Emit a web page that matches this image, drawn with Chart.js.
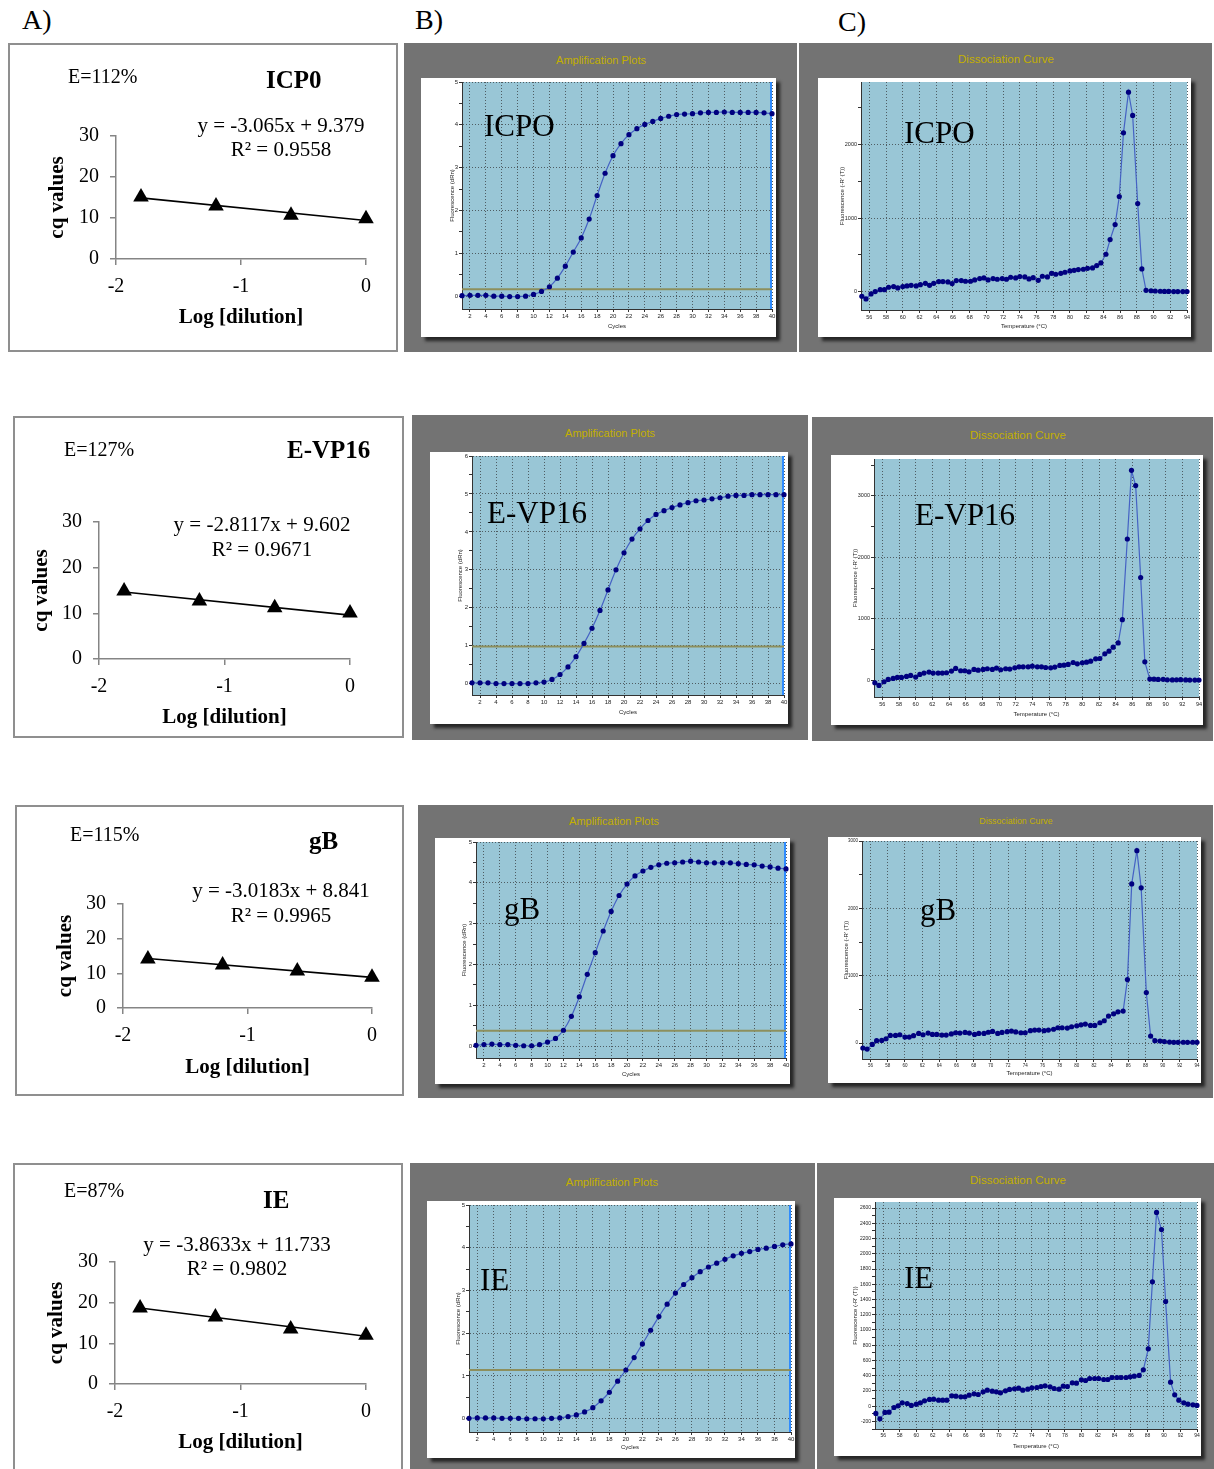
<!DOCTYPE html>
<html>
<head>
<meta charset="utf-8">
<title>qPCR standard curves, amplification and dissociation</title>
<script src="https://cdn.jsdelivr.net/npm/chart.js@4.4.1/dist/chart.umd.min.js"></script>
<style>
  html, body { margin: 0; padding: 0; background: #fff; }
  body { position: relative; width: 1214px; height: 1469px; overflow: hidden; font-family: "Liberation Serif", serif; }
  .frame { position: absolute; box-sizing: border-box; border: 2px solid #8f8f8f; background: #fff; }
  .grey { position: absolute; background: #737373; }
  .white { position: absolute; background: #fff; box-shadow: 4px 4px 3px rgba(25,25,25,0.85); }
  .txt { position: absolute; white-space: nowrap; line-height: 1; color: #000; }
  canvas { position: absolute; }
</style>
</head>
<body>
<script>
// ---- data ----
var genes = ['ICP0', 'E-VP16', 'gB', 'IE'];
var plotLabels = ['ICPO', 'E-VP16', 'gB', 'IE'];
var efficiency = ['E=112%', 'E=127%', 'E=115%', 'E=87%'];
var equations = ['y = -3.065x + 9.379', 'y = -2.8117x + 9.602', 'y = -3.0183x + 8.841', 'y = -3.8633x + 11.733'];
var rSquared = ['R\u00b2 = 0.9558', 'R\u00b2 = 0.9671', 'R\u00b2 = 0.9965', 'R\u00b2 = 0.9802'];

// standard curves (A)
var logDilution = [-1.8, -1.2, -0.6, 0];
var cqICP0 = [15.1, 12.9, 10.7, 9.8];
var cqEVP16 = [14.9, 12.7, 11.2, 10.1];
var cqGB = [14.1, 12.4, 10.7, 8.9];
var cqIE = [18.7, 16.5, 13.5, 12.0];
var trendX = [-1.8, 0];
var trendICP0 = [14.9, 9.38];
var trendEVP16 = [14.66, 9.6];
var trendGB = [14.27, 8.84];
var trendIE = [18.69, 11.73];

// amplification plots (B)
var cycles = [1, 2, 3, 4, 5, 6, 7, 8, 9, 10, 11, 12, 13, 14, 15, 16, 17, 18, 19, 20,
              21, 22, 23, 24, 25, 26, 27, 28, 29, 30, 31, 32, 33, 34, 35, 36, 37, 38, 39, 40];
var ampICP0 = [0.01, 0.02, 0.02, 0.02, 0.0, 0.0, -0.01, -0.01, 0.0, 0.04,
               0.11, 0.22, 0.42, 0.70, 1.03, 1.36, 1.80, 2.35, 2.87, 3.28,
               3.56, 3.77, 3.91, 4.01, 4.08, 4.15, 4.20, 4.24, 4.25, 4.26,
               4.28, 4.29, 4.29, 4.30, 4.29, 4.29, 4.29, 4.29, 4.28, 4.26];
var ampEVP16 = [0.02, 0.02, 0.02, 0.0, 0.0, 0.0, 0.0, 0.0, 0.02, 0.04,
                0.11, 0.24, 0.44, 0.71, 1.06, 1.46, 1.93, 2.47, 3.00, 3.45,
                3.81, 4.08, 4.30, 4.46, 4.56, 4.64, 4.71, 4.77, 4.82, 4.84,
                4.87, 4.90, 4.94, 4.96, 4.96, 4.98, 4.98, 4.98, 4.98, 4.98];
var ampGB = [0.02, 0.04, 0.05, 0.04, 0.04, 0.02, 0.01, 0.01, 0.04, 0.10,
             0.19, 0.39, 0.73, 1.21, 1.76, 2.29, 2.82, 3.30, 3.69, 3.97,
             4.17, 4.29, 4.38, 4.44, 4.48, 4.49, 4.51, 4.53, 4.51, 4.49,
             4.49, 4.49, 4.49, 4.47, 4.45, 4.44, 4.41, 4.39, 4.36, 4.34];
var ampIE = [0.01, 0.02, 0.02, 0.02, 0.01, 0.01, 0.01, 0.0, 0.0, 0.0,
             0.01, 0.02, 0.05, 0.09, 0.16, 0.26, 0.42, 0.62, 0.88, 1.14,
             1.43, 1.75, 2.07, 2.39, 2.68, 2.94, 3.14, 3.30, 3.44, 3.55,
             3.64, 3.73, 3.81, 3.87, 3.91, 3.96, 3.99, 4.03, 4.07, 4.09];
var thresholds = [0.16, 0.98, 0.38, 1.14];

// dissociation curves (C)
var meltTemp = [55.1, 55.6, 56.2, 56.7, 57.3, 57.8, 58.3, 58.9, 59.4, 60.0,
                60.5, 61.0, 61.6, 62.1, 62.7, 63.2, 63.7, 64.3, 64.8, 65.4,
                65.9, 66.4, 67.0, 67.5, 68.1, 68.6, 69.2, 69.7, 70.2, 70.8,
                71.3, 71.9, 72.4, 72.9, 73.5, 74.0, 74.6, 75.1, 75.6, 76.2,
                76.7, 77.3, 77.8, 78.3, 78.9, 79.4, 80.0, 80.5, 81.0, 81.6,
                82.1, 82.7, 83.2, 83.7, 84.3, 84.8, 85.4, 85.9, 86.4, 87.0,
                87.5, 88.1, 88.6, 89.1, 89.7, 90.2, 90.8, 91.3, 91.8, 92.4,
                92.9, 93.5, 94.0];
var meltICP0 = [-63, -100, -32, 0, 27, 27, 59, 68, 50, 68,
                77, 86, 77, 95, 113, 86, 113, 136, 136, 132,
                109, 150, 150, 141, 141, 159, 177, 186, 159, 177,
                168, 177, 168, 195, 186, 204, 200, 172, 190, 154,
                209, 200, 249, 236, 249, 263, 281, 290, 299, 304,
                317, 322, 354, 390, 508, 707, 912, 1293, 2159, 2712,
                2395, 1197, 308, 18, 12, 8, 5, 3, 2, 1,
                1, 0, 0];
var meltEVP16 = [-38, -81, -22, 16, 32, 49, 49, 65, 81, 54,
                 97, 119, 135, 119, 119, 119, 124, 151, 194, 157,
                 157, 140, 178, 167, 178, 189, 178, 200, 173, 189,
                 184, 205, 221, 221, 221, 232, 221, 221, 210, 205,
                 216, 243, 248, 259, 291, 270, 286, 297, 313, 351,
                 356, 432, 475, 540, 610, 988, 2299, 3416, 3168, 1673,
                 302, 22, 20, 15, 18, 10, 8, 10, 12, 8,
                 6, 5, 5];
var meltGB = [-74, -89, -20, 35, 39, 64, 113, 113, 123, 89,
              89, 109, 143, 123, 148, 128, 128, 118, 118, 135,
              153, 148, 158, 148, 128, 143, 143, 160, 173, 143,
              158, 168, 178, 165, 153, 153, 183, 192, 192, 183,
              192, 205, 227, 227, 222, 242, 255, 271, 281, 261,
              261, 301, 331, 400, 434, 464, 474, 942, 2363, 2856,
              2304, 750, 104, 35, 30, 22, 15, 10, 10, 12,
              10, 12, 10];
var meltIE = [-96, -166, -83, -79, -18, 4, 44, 35, 9, 26,
              44, 70, 88, 92, 79, 79, 79, 136, 131, 123,
              123, 144, 162, 153, 188, 210, 197, 188, 175, 201,
              219, 228, 236, 210, 223, 241, 245, 258, 267, 254,
              232, 223, 263, 258, 306, 302, 346, 337, 363, 363,
              363, 350, 350, 376, 376, 376, 376, 385, 394, 403,
              477, 753, 1632, 2543, 2319, 1374, 315, 149, 79, 44,
              26, 18, 9];

// ---- layout (page pixels) ----
var stdLayout = [
  { box: [8, 43, 390, 309], area: [116, 136, 366, 259], yTitle: 58, xTitle: 318, e: [68, 76], gene: [266, 79], eq: [281, 125], r2: [281, 149] },
  { box: [13, 416, 391, 322], area: [99, 522, 350, 659], yTitle: 42, xTitle: 718, e: [64, 449], gene: [287, 449], eq: [262, 524], r2: [262, 549] },
  { box: [15, 805, 389, 291], area: [123, 904, 372, 1008], yTitle: 66, xTitle: 1068, e: [70, 834], gene: [309, 840], eq: [281, 890], r2: [281, 915] },
  { box: [13, 1163, 390, 312], area: [115, 1262, 366, 1384], yTitle: 57, xTitle: 1443, e: [64, 1190], gene: [263, 1199], eq: [237, 1244], r2: [237, 1268] }
];
var ampLayout = [
  { grey: [404, 43, 393, 309], title: [601, 60, 11], white: [421, 78, 355, 259], plot: [41, 3, 352, 231], yTitle: 31, xTitle: 248, label: [484, 136], y: [-0.3, 5] },
  { grey: [412, 415, 396, 325], title: [610, 433, 11], white: [430, 452, 358, 272], plot: [42, 3, 355, 243], yTitle: 30, xTitle: 260, label: [487, 523], y: [-0.3, 6] },
  { grey: [418, 805, 392, 293], title: [614, 821, 11], white: [435, 838, 355, 246], plot: [41, 4, 353, 220], yTitle: 29, xTitle: 236, label: [504, 919], y: [-0.29, 5] },
  { grey: [410, 1163, 405, 306], title: [612, 1183, 11.3], white: [427, 1201, 368, 257], plot: [42, 2, 365, 231], yTitle: 31, xTitle: 246, label: [480, 1290], y: [-0.31, 5] }
];
var meltLayout = [
  { grey: [799, 43, 413, 309], title: [1006, 60, 11.5], white: [818, 78, 373, 259], plot: [43, 3, 369, 232], yTitle: 24, xTitle: 248, label: [904, 143], y: [-250, 2850, 1000, 500], tick: 5.5 },
  { grey: [812, 417, 401, 324], title: [1018, 436, 11.5], white: [831, 455, 372, 270], plot: [43, 4, 368, 242], yTitle: 24, xTitle: 259, label: [915, 525], y: [-270, 3600, 1000, 500], tick: 5.5 },
  { grey: [810, 805, 403, 293], title: [1016, 821, 8.8], white: [828, 837, 373, 246], plot: [34, 3, 370, 222], yTitle: 18, xTitle: 236, label: [920, 920], y: [-237, 3000, 1000, 500], tick: 4.5 },
  { grey: [817, 1163, 397, 306], title: [1018, 1181, 11.5], white: [834, 1198, 367, 258], plot: [41, 4, 363, 231], yTitle: 21, xTitle: 248, label: [904, 1288], y: [-300, 2680, 200, 100], tick: 5 }
];

// ---- helpers ----
function pts(xs, ys) {
  return xs.map(function (x, i) { return { x: x, y: ys[i] }; });
}
function div(cls, r) {
  var d = document.createElement('div');
  d.className = cls;
  d.style.left = r[0] + 'px';
  d.style.top = r[1] + 'px';
  d.style.width = r[2] + 'px';
  d.style.height = r[3] + 'px';
  document.body.appendChild(d);
  return d;
}
function canvasAt(r) {
  var c = document.createElement('canvas');
  c.width = r[2];
  c.height = r[3];
  c.style.left = r[0] + 'px';
  c.style.top = r[1] + 'px';
  document.body.appendChild(c);
  return c;
}
function addText(str, x, y, css, mode, size) {
  var d = document.createElement('div');
  d.className = 'txt';
  d.textContent = str;
  d.style.cssText += css + ';font-size:' + size + 'px';
  d.style.left = x + 'px';
  if (mode === 'b') {
    d.style.top = (y - 0.84 * size) + 'px';
  } else {
    d.style.top = y + 'px';
    d.style.transform = mode === 'c' ? 'translate(-50%,-50%)' : 'translateY(-50%)';
  }
  document.body.appendChild(d);
}
function noPad(s) {
  s.paddingLeft = 0; s.paddingRight = 0; s.paddingTop = 0; s.paddingBottom = 0;
}

// blue plot background of the instrument screenshots
var areaBg = {
  id: 'areaBg',
  beforeDraw: function (chart, args, opts) {
    if (!opts.color) return;
    var a = chart.chartArea, c = chart.ctx;
    c.save();
    c.fillStyle = opts.color;
    c.fillRect(a.left, a.top, a.right - a.left, a.bottom - a.top);
    c.restore();
  }
};
// blue cursor line at the last cycle
var edgeLine = {
  id: 'edgeLine',
  beforeDatasetsDraw: function (chart, args, opts) {
    if (!opts.color) return;
    var xs = chart.scales.x, a = chart.chartArea, c = chart.ctx;
    var px = xs.getPixelForValue(xs.max) - 1;
    c.save();
    c.strokeStyle = opts.color;
    c.lineWidth = 2;
    c.beginPath();
    c.moveTo(px, a.top);
    c.lineTo(px, a.bottom);
    c.stroke();
    c.restore();
  }
};
Chart.register(areaBg, edgeLine);

var serif = 'Liberation Serif';
var sans = 'Liberation Sans';

// ---- A) standard curves ----
function stdCurve(g, k, cq, trend) {
  var r = g.box;
  div('frame', r);
  var cv = canvasAt(r);
  var W = r[2], H = r[3];
  var L = g.area[0] - r[0], T = g.area[1] - r[1], R = g.area[2] - r[0], B = g.area[3] - r[1];
  new Chart(cv, {
    type: 'scatter',
    data: {
      datasets: [
        { type: 'line', data: pts(trendX, trend), borderColor: '#000', borderWidth: 1.6, pointRadius: 0, fill: false, order: 2 },
        { data: pts(logDilution, cq), pointStyle: 'triangle', pointRadius: 9, backgroundColor: '#000', borderColor: '#000', borderWidth: 0, clip: false, order: 1 }
      ]
    },
    options: {
      responsive: false,
      animation: false,
      layout: { padding: { left: 0, top: T, right: W - R, bottom: 0 } },
      plugins: { legend: { display: false }, tooltip: { enabled: false } },
      scales: {
        x: {
          type: 'linear', min: -2, max: 0,
          ticks: { stepSize: 1, color: '#000', font: { family: serif, size: 20 }, padding: 10 },
          grid: { drawOnChartArea: false, tickLength: 6, color: '#858585', lineWidth: 1.5 },
          border: { color: '#858585', width: 1.5 },
          title: { display: true, text: 'Log [dilution]', color: '#000', font: { family: serif, size: 21, weight: 'bold' },
                   padding: { top: 0, bottom: H - (g.xTitle - r[1]) - 12.6 } },
          afterFit: function (s) { s.height = H - B; noPad(s); }
        },
        y: {
          min: 0, max: 30,
          ticks: { stepSize: 10, color: '#000', font: { family: serif, size: 20 }, padding: 11 },
          grid: { drawOnChartArea: false, tickLength: 6, color: '#858585', lineWidth: 1.5 },
          border: { color: '#858585', width: 1.5 },
          title: { display: true, text: 'cq values', color: '#000', font: { family: serif, size: 21, weight: 'bold' },
                   padding: { top: g.yTitle - r[0] - 12.6, bottom: 0 } },
          afterFit: function (s) { s.width = L; noPad(s); }
        }
      }
    }
  });
  addText(efficiency[k], g.e[0], g.e[1], 'font-family:' + serif, 'l', 20);
  addText(genes[k], g.gene[0], g.gene[1], 'font-family:' + serif + ';font-weight:bold', 'l', 25);
  addText(equations[k], g.eq[0], g.eq[1], 'font-family:' + serif, 'c', 21);
  addText(rSquared[k], g.r2[0], g.r2[1], 'font-family:' + serif, 'c', 21);
}

// ---- B) and C) instrument screenshots ----
function instrument(g, k, title, xs, ys, o) {
  div('grey', g.grey);
  addText(title, g.title[0], g.title[1], 'font-family:' + sans + ';color:#c4b000', 'c', g.title[2]);
  div('white', g.white);
  var cv = canvasAt(g.white);
  var W = g.white[2], H = g.white[3], p = g.plot;
  var major = o.major, minor = o.minor;
  function isMajor(v) { return Math.abs(v / major - Math.round(v / major)) < 1e-6; }

  var datasets = [{
    data: pts(xs, ys), borderColor: '#4562c4', borderWidth: 1.2,
    pointRadius: 2.6, pointBackgroundColor: '#00007f', pointBorderWidth: 0,
    tension: o.tension, cubicInterpolationMode: o.tension ? 'monotone' : 'default',
    clip: false, order: 1
  }];
  if (o.threshold != null) {
    datasets.push({
      data: [{ x: o.xmin, y: o.threshold }, { x: o.xmax, y: o.threshold }],
      borderColor: '#8d8f5d', borderWidth: 2, pointRadius: 0, order: 2
    });
  }
  var tickFont = { family: sans, size: 6 };
  new Chart(cv, {
    type: 'line',
    data: { datasets: datasets },
    options: {
      responsive: false,
      animation: false,
      layout: { padding: { left: 0, top: p[1], right: W - p[2], bottom: 0 } },
      plugins: {
        legend: { display: false }, tooltip: { enabled: false },
        areaBg: { color: '#99c6d6' },
        edgeLine: { color: o.edge || null }
      },
      scales: {
        x: {
          type: 'linear', min: o.xmin, max: o.xmax,
          ticks: { stepSize: 2, includeBounds: false, color: '#222', font: { family: sans, size: o.tickSize }, padding: 1, maxRotation: 0, autoSkip: false,
                   callback: function (v) { return String(v); } },
          grid: { color: '#4f5d63', lineWidth: 1, tickLength: 3, tickColor: '#333' },
          border: { color: '#333', width: 1, dash: [1, 2] },
          title: { display: true, text: o.xTitle, color: '#222', font: tickFont, padding: { top: 0, bottom: H - g.xTitle - 3.6 } },
          afterFit: function (s) { s.height = H - p[3]; noPad(s); }
        },
        y: {
          min: o.ymin, max: o.ymax,
          ticks: { stepSize: minor, includeBounds: false, color: '#222', font: { family: sans, size: o.tickSize }, padding: 1, autoSkip: false,
                   callback: function (v) { return isMajor(v) ? String(Math.round(v)) : ''; } },
          afterBuildTicks: function (s) {
            var t = [];
            for (var v = Math.ceil(o.ymin / minor - 1e-9) * minor; v <= o.ymax + 1e-9; v += minor) {
              t.push({ value: Math.round(v * 1000) / 1000 });
            }
            s.ticks = t;
          },
          grid: {
            color: function (ctx) { return ctx.tick && isMajor(ctx.tick.value) ? '#4f5d63' : 'rgba(0,0,0,0)'; },
            lineWidth: 1, tickLength: 3, tickColor: '#333'
          },
          border: { color: '#333', width: 1, dash: [1, 2] },
          title: { display: true, text: o.yTitle, color: '#222', font: tickFont, padding: { top: g.yTitle - 3.6, bottom: 0 } },
          afterFit: function (s) { s.width = p[0]; noPad(s); }
        }
      }
    }
  });
  addText(plotLabels[k], g.label[0], g.label[1], 'font-family:' + serif, 'b', 31);
}

// ---- build the figure ----
var cqSets = [cqICP0, cqEVP16, cqGB, cqIE];
var trendSets = [trendICP0, trendEVP16, trendGB, trendIE];
var ampSets = [ampICP0, ampEVP16, ampGB, ampIE];
var meltSets = [meltICP0, meltEVP16, meltGB, meltIE];

for (var k = 0; k < 4; k++) {
  stdCurve(stdLayout[k], k, cqSets[k], trendSets[k]);
  var a = ampLayout[k];
  instrument(a, k, 'Amplification Plots', cycles, ampSets[k], {
    xmin: 1, xmax: 40, ymin: a.y[0], ymax: a.y[1], major: 1, minor: 0.5,
    tension: 0.4, threshold: thresholds[k], edge: '#2f8cff', tickSize: 6,
    xTitle: 'Cycles', yTitle: 'Fluorescence (dRn)'
  });
  var m = meltLayout[k];
  instrument(m, k, 'Dissociation Curve', meltTemp, meltSets[k], {
    xmin: 55, xmax: 94, ymin: m.y[0], ymax: m.y[1], major: m.y[2], minor: m.y[3],
    tension: 0, threshold: null, edge: null, tickSize: m.tick,
    xTitle: 'Temperature (\u00b0C)', yTitle: "Fluorescence (-R' (T))"
  });
}

addText('A)', 22, 20, 'font-family:' + serif, 'l', 28);
addText('B)', 415, 20, 'font-family:' + serif, 'l', 28);
addText('C)', 838, 22, 'font-family:' + serif, 'l', 28);
</script>
</body>
</html>
